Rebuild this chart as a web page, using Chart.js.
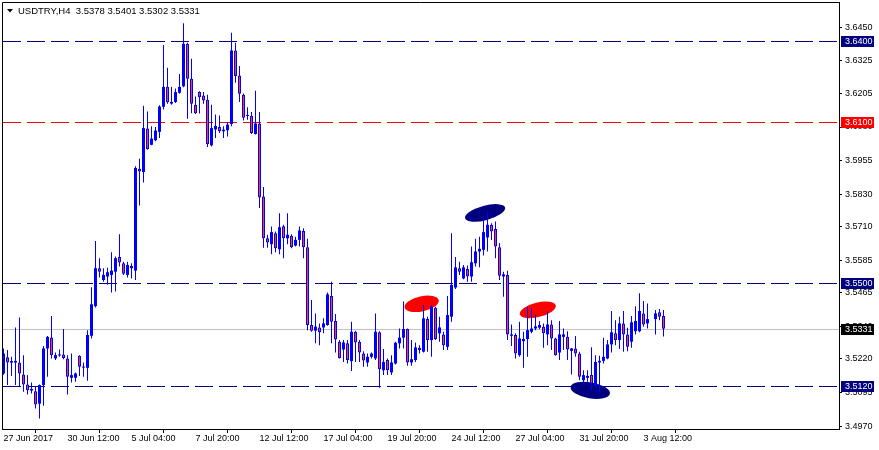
<!DOCTYPE html>
<html>
<head>
<meta charset="utf-8">
<script src="https://cdn.jsdelivr.net/npm/chart.js@4.4.1/dist/chart.umd.min.js"></script>
<style>
  html, body { margin: 0; padding: 0; background: #fff; }
  #wrap { width: 879px; height: 450px; }
</style>
</head>
<body>
<div id="wrap"><canvas id="chart" width="879" height="450"></canvas></div>
<script>
// USDTRY H4 candles (bar 162 is a gap)
const symbol = 'USDTRY,H4';

const opens = [
  3.5165, 3.5225, 3.5205, 3.5206, 3.5206, 3.5161, 3.5124, 3.5107, 3.5099, 3.5053,
  3.5122, 3.5258, 3.5299, 3.5221, 3.5232, 3.5236, 3.5221, 3.5149, 3.5149, 3.5231,
  3.5187, 3.5186, 3.5305, 3.5415, 3.5556, 3.5512, 3.5525, 3.5531, 3.5543, 3.5597,
  3.5574, 3.5531, 3.5556, 3.5547, 3.5925, 3.5913, 3.6074, 3.6014, 3.6031, 3.6062,
  3.6155, 3.6229, 3.6173, 3.6173, 3.6207, 3.6231, 3.6389, 3.6259, 3.6163, 3.6210,
  3.6197, 3.6181, 3.6012, 3.6071, 3.6080, 3.6064, 3.6068, 3.6091, 3.6364, 3.6271,
  3.6200, 3.6121, 3.6122, 3.6054, 3.6093, 3.5822, 3.5667, 3.5645, 3.5686, 3.5626,
  3.5712, 3.5667, 3.5676, 3.5640, 3.5661, 3.5694, 3.5634, 3.5345, 3.5324, 3.5336,
  3.5336, 3.5345, 3.5453, 3.5360, 3.5283, 3.5254, 3.5277, 3.5211, 3.5320, 3.5283,
  3.5239, 3.5206, 3.5227, 3.5221, 3.5318, 3.5177, 3.5215, 3.5169, 3.5202, 3.5277,
  3.5298, 3.5330, 3.5206, 3.5215, 3.5261, 3.5246, 3.5367, 3.5289, 3.5409, 3.5314,
  3.5310, 3.5264, 3.5376, 3.5484, 3.5556, 3.5518, 3.5553, 3.5525, 3.5574, 3.5618,
  3.5624, 3.5670, 3.5717, 3.5701, 3.5634, 3.5525, 3.5531, 3.5305, 3.5308, 3.5233,
  3.5285, 3.5293, 3.5320, 3.5332, 3.5335, 3.5339, 3.5310, 3.5347, 3.5295, 3.5243,
  3.5301, 3.5301, 3.5249, 3.5258, 3.5239, 3.5140, 3.5149, 3.5159, 3.5119, 3.5206,
  3.5212, 3.5221, 3.5273, 3.5314, 3.5289, 3.5351, 3.5310, 3.5283, 3.5322, 3.5322,
  3.5388, 3.5351, null, 3.5367, 3.5392, 3.5378
];
const highs = [
  3.5258, 3.5252, 3.5227, 3.5336, 3.5373, 3.5233, 3.5159, 3.5132, 3.5119, 3.5124,
  3.5267, 3.5304, 3.5378, 3.5243, 3.5254, 3.5330, 3.5233, 3.5239, 3.5169, 3.5233,
  3.5206, 3.5326, 3.5485, 3.5657, 3.5593, 3.5556, 3.5558, 3.5615, 3.5599, 3.5682,
  3.5580, 3.5580, 3.5574, 3.5934, 3.5962, 3.6159, 3.6138, 3.6083, 3.6080, 3.6161,
  3.6384, 3.6300, 3.6229, 3.6223, 3.6277, 3.6465, 3.6393, 3.6333, 3.6193, 3.6213,
  3.6210, 3.6200, 3.6163, 3.6126, 3.6123, 3.6083, 3.6099, 3.6430, 3.6393, 3.6306,
  3.6204, 3.6153, 3.6136, 3.6215, 3.6136, 3.5857, 3.5680, 3.5711, 3.5692, 3.5760,
  3.5717, 3.5760, 3.5682, 3.5673, 3.5711, 3.5704, 3.5665, 3.5438, 3.5388, 3.5351,
  3.5370, 3.5466, 3.5506, 3.5386, 3.5289, 3.5289, 3.5289, 3.5357, 3.5324, 3.5289,
  3.5248, 3.5239, 3.5243, 3.5388, 3.5322, 3.5256, 3.5221, 3.5233, 3.5283, 3.5332,
  3.5432, 3.5332, 3.5289, 3.5280, 3.5270, 3.5419, 3.5376, 3.5419, 3.5413, 3.5376,
  3.5320, 3.5453, 3.5686, 3.5597, 3.5580, 3.5568, 3.5566, 3.5636, 3.5665, 3.5673,
  3.5739, 3.5764, 3.5723, 3.5729, 3.5649, 3.5543, 3.5546, 3.5347, 3.5314, 3.5357,
  3.5320, 3.5413, 3.5407, 3.5384, 3.5360, 3.5351, 3.5394, 3.5363, 3.5298, 3.5360,
  3.5332, 3.5322, 3.5260, 3.5304, 3.5246, 3.5177, 3.5177, 3.5262, 3.5233, 3.5231,
  3.5298, 3.5289, 3.5397, 3.5363, 3.5376, 3.5397, 3.5335, 3.5378, 3.5415, 3.5463,
  3.5434, 3.5425, null, 3.5401, 3.5404, 3.5401
];
const lows = [
  3.5160, 3.5122, 3.5156, 3.5122, 3.5119, 3.5097, 3.5087, 3.5091, 3.5035, 3.4998,
  3.5045, 3.5153, 3.5221, 3.5215, 3.5227, 3.5218, 3.5087, 3.5132, 3.5134, 3.5156,
  3.5153, 3.5138, 3.5295, 3.5410, 3.5521, 3.5506, 3.5494, 3.5466, 3.5469, 3.5562,
  3.5531, 3.5521, 3.5518, 3.5512, 3.5789, 3.5874, 3.5996, 3.6012, 3.6027, 3.6039,
  3.6145, 3.6166, 3.6163, 3.6169, 3.6203, 3.6228, 3.6111, 3.6131, 3.6128, 3.6130,
  3.6166, 3.6006, 3.6008, 3.6039, 3.6058, 3.6039, 3.6045, 3.6083, 3.6244, 3.6173,
  3.6104, 3.6107, 3.6054, 3.6052, 3.5779, 3.5632, 3.5632, 3.5608, 3.5615, 3.5608,
  3.5593, 3.5645, 3.5630, 3.5636, 3.5636, 3.5593, 3.5326, 3.5320, 3.5277, 3.5270,
  3.5314, 3.5342, 3.5277, 3.5243, 3.5221, 3.5208, 3.5202, 3.5174, 3.5208, 3.5208,
  3.5190, 3.5190, 3.5221, 3.5215, 3.5112, 3.5159, 3.5159, 3.5159, 3.5198, 3.5258,
  3.5258, 3.5194, 3.5194, 3.5208, 3.5239, 3.5243, 3.5246, 3.5227, 3.5289, 3.5283,
  3.5252, 3.5252, 3.5357, 3.5479, 3.5531, 3.5515, 3.5506, 3.5506, 3.5562, 3.5559,
  3.5603, 3.5618, 3.5661, 3.5593, 3.5512, 3.5450, 3.5289, 3.5267, 3.5221, 3.5227,
  3.5186, 3.5227, 3.5314, 3.5326, 3.5329, 3.5261, 3.5270, 3.5252, 3.5231, 3.5215,
  3.5252, 3.5215, 3.5161, 3.5227, 3.5140, 3.5122, 3.5134, 3.5103, 3.5115, 3.5097,
  3.5202, 3.5218, 3.5243, 3.5270, 3.5256, 3.5246, 3.5248, 3.5261, 3.5310, 3.5318,
  3.5339, 3.5332, null, 3.5310, 3.5363, 3.5302
];
const closes = [
  3.5239, 3.5206, 3.5211, 3.5205, 3.5165, 3.5124, 3.5103, 3.5101, 3.5050, 3.5122,
  3.5258, 3.5301, 3.5233, 3.5233, 3.5233, 3.5223, 3.5153, 3.5159, 3.5165, 3.5190,
  3.5189, 3.5308, 3.5422, 3.5556, 3.5543, 3.5531, 3.5541, 3.5547, 3.5593, 3.5577,
  3.5535, 3.5568, 3.5564, 3.5928, 3.5915, 3.6076, 3.5998, 3.6037, 3.6067, 3.6156,
  3.6229, 3.6172, 3.6166, 3.6210, 3.6229, 3.6389, 3.6259, 3.6166, 3.6131, 3.6190,
  3.6178, 3.6017, 3.6076, 3.6084, 3.6064, 3.6070, 3.6089, 3.6364, 3.6269, 3.6203,
  3.6114, 3.6123, 3.6058, 3.6093, 3.5818, 3.5667, 3.5651, 3.5690, 3.5630, 3.5708,
  3.5667, 3.5680, 3.5634, 3.5661, 3.5696, 3.5634, 3.5345, 3.5324, 3.5339, 3.5318,
  3.5351, 3.5459, 3.5357, 3.5291, 3.5223, 3.5280, 3.5215, 3.5320, 3.5280, 3.5243,
  3.5213, 3.5227, 3.5239, 3.5320, 3.5181, 3.5208, 3.5177, 3.5206, 3.5279, 3.5298,
  3.5330, 3.5206, 3.5218, 3.5262, 3.5252, 3.5370, 3.5289, 3.5413, 3.5293, 3.5336,
  3.5270, 3.5382, 3.5494, 3.5559, 3.5543, 3.5559, 3.5525, 3.5578, 3.5618, 3.5628,
  3.5690, 3.5717, 3.5692, 3.5636, 3.5528, 3.5533, 3.5310, 3.5310, 3.5239, 3.5295,
  3.5293, 3.5326, 3.5332, 3.5340, 3.5345, 3.5314, 3.5347, 3.5295, 3.5233, 3.5310,
  3.5310, 3.5254, 3.5258, 3.5239, 3.5153, 3.5159, 3.5156, 3.5128, 3.5208, 3.5212,
  3.5227, 3.5273, 3.5318, 3.5289, 3.5351, 3.5310, 3.5264, 3.5355, 3.5360, 3.5397,
  3.5347, 3.5367, null, 3.5388, 3.5376, 3.5331
];

const xTickBars = [0, 16, 32, 48, 64, 80, 96, 112, 128, 144, 160];
const xTickLabels = ['27 Jun 2017', '30 Jun 12:00', '5 Jul 04:00', '7 Jul 20:00', '12 Jul 12:00',
  '17 Jul 04:00', '19 Jul 20:00', '24 Jul 12:00', '27 Jul 04:00', '31 Jul 20:00', '3 Aug 12:00'];
const yTickValues = [3.6450, 3.6325, 3.6205, 3.6080, 3.5955, 3.5830, 3.5710, 3.5585,
  3.5465, 3.5340, 3.5220, 3.5095, 3.4970];

// horizontal levels
const levelValues = [3.6400, 3.6100, 3.5500, 3.5120];
const levelColors = ['#000080', '#FF0000', '#000080', '#000080'];

// hand-drawn ellipses: [bar, price] of both ends of the long axis, half thickness in price
const ellipseFrom = [[115.4, 3.5741], [141.8, 3.5115], [100.3, 3.5410], [129.1, 3.5385]];
const ellipseTo = [[125.4, 3.5781], [151.6, 3.5090], [108.8, 3.5437], [138.05, 3.5418]];
const ellipseHalf = [0.0027, 0.0030, 0.0028, 0.0027];
const ellipseColors = ['#000080', '#000080', '#FF0000', '#FF0000'];

const FONT = "'Liberation Sans', Arial, sans-serif";
const xMin = -0.375, xMax = 208.875;
const bid = closes[closes.length - 1];

let wicks = [], bulls = [], bears = [];
opens.forEach((o, i) => {
    if (o === null) return;
    let c = closes[i];
    wicks.push({x: i, y: [lows[i], highs[i]]});
    if (c >= o) bulls.push({x: i, y: [o, c]});
    else bears.push({x: i, y: [c, o]});
});

const datasets = [
    {type: 'bar', data: wicks, backgroundColor: '#0000FF', barThickness: 1, grouped: false, inflateAmount: 0, order: 3},
    {type: 'bar', data: bulls, backgroundColor: '#0000FF', barThickness: 3, grouped: false, inflateAmount: 0, minBarLength: 1, order: 1},
    {type: 'bar', data: bears, backgroundColor: '#FF4020', borderColor: '#0000FF', borderWidth: 1, borderSkipped: false,
     barThickness: 3, grouped: false, inflateAmount: 0, minBarLength: 2, order: 1}
];

// levels, bid line and ellipses sit behind the candles
const background = {
    id: 'background',
    beforeDatasetsDraw(chart) {
        const {ctx, chartArea, scales: {x, y}} = chart;
        ctx.save();
        ctx.beginPath();
        ctx.rect(chartArea.left, chartArea.top, chartArea.width, chartArea.height);
        ctx.clip();
        ctx.lineWidth = 1;

        let by = Math.round(y.getPixelForValue(bid)) + 0.5;
        ctx.strokeStyle = '#C0C0C0';
        ctx.beginPath();
        ctx.moveTo(chartArea.left, by);
        ctx.lineTo(chartArea.right, by);
        ctx.stroke();

        ctx.setLineDash([18, 6]);
        levelValues.forEach((v, i) => {
            let py = Math.round(y.getPixelForValue(v)) + 0.5;
            ctx.strokeStyle = levelColors[i];
            ctx.beginPath();
            ctx.moveTo(chartArea.left + 1, py);
            ctx.lineTo(chartArea.right, py);
            ctx.stroke();
        });
        ctx.setLineDash([]);

        ellipseFrom.forEach((p, i) => {
            let x1 = x.getPixelForValue(p[0]), y1 = y.getPixelForValue(p[1]);
            let x2 = x.getPixelForValue(ellipseTo[i][0]), y2 = y.getPixelForValue(ellipseTo[i][1]);
            let ry = Math.abs(y.getPixelForValue(0) - y.getPixelForValue(ellipseHalf[i]));
            ctx.fillStyle = ellipseColors[i];
            ctx.beginPath();
            ctx.ellipse((x1 + x2) / 2, (y1 + y2) / 2, Math.hypot(x2 - x1, y2 - y1) / 2, ry,
                Math.atan2(y2 - y1, x2 - x1), 0, Math.PI * 2);
            ctx.fill();
        });
        ctx.restore();
    }
};

const decorations = {
    id: 'decorations',
    afterDraw(chart) {
        const {ctx, chartArea, scales: {y}} = chart;
        ctx.save();
        // top and left frame
        ctx.strokeStyle = '#000';
        ctx.lineWidth = 1;
        ctx.beginPath();
        ctx.moveTo(chartArea.left + 0.5, chartArea.bottom);
        ctx.lineTo(chartArea.left + 0.5, chartArea.top + 0.5);
        ctx.lineTo(chartArea.right, chartArea.top + 0.5);
        ctx.stroke();

        // price tags of the levels on the right scale
        ctx.font = '9px ' + FONT;
        ctx.textBaseline = 'middle';
        let tags = levelValues.map((v, i) => [v, levelColors[i]]);
        tags.push([bid, '#000000']);
        tags.forEach(([v, col]) => {
            let py = Math.round(y.getPixelForValue(v));
            ctx.fillStyle = col;
            ctx.fillRect(y.left + 2, py - 5, 33, 11);
            ctx.fillStyle = '#FFFFFF';
            ctx.fillText(v.toFixed(4), y.left + 6, py + 0.5);
        });

        // symbol line
        ctx.font = '9.5px ' + FONT;
        ctx.fillStyle = '#000';
        ctx.beginPath();
        ctx.moveTo(7, 9);
        ctx.lineTo(13, 9);
        ctx.lineTo(10, 12.5);
        ctx.closePath();
        ctx.fill();
        let last = closes.length - 1;
        let head = symbol + '  ' + [opens[last], highs[last], lows[last], closes[last]].map(v => v.toFixed(4)).join(' ');
        ctx.fillText(head, 18, 11);
        ctx.restore();
    }
};

new Chart(document.getElementById('chart'), {
    type: 'bar',
    data: {datasets: datasets},
    options: {
        responsive: false,
        animation: false,
        devicePixelRatio: 1,
        events: [],
        layout: {padding: {left: 2, top: 2, right: 0, bottom: 0}},
        plugins: {legend: {display: false}, tooltip: {enabled: false}},
        scales: {
            x: {
                type: 'linear',
                min: xMin,
                max: xMax,
                offset: false,
                afterBuildTicks: (s) => { s.ticks = xTickBars.map(v => ({value: v})); },
                afterFit: (s) => { s.height = 21; s.paddingLeft = 0; s.paddingRight = 0; },
                grid: {drawOnChartArea: false, drawTicks: true, tickLength: 4, color: '#000'},
                border: {display: true, color: '#000', width: 1},
                ticks: {
                    autoSkip: false, maxRotation: 0, minRotation: 0, align: 'start', padding: 0,
                    color: '#000', font: {family: FONT, size: 9},
                    callback: (v) => { let k = xTickBars.indexOf(v); return k >= 0 ? xTickLabels[k] : ''; }
                }
            },
            y: {
                type: 'linear',
                position: 'right',
                min: 3.4959,
                max: 3.6544,
                afterBuildTicks: (s) => { s.ticks = yTickValues.map(v => ({value: v})); },
                afterFit: (s) => { s.width = 40; s.paddingTop = 0; s.paddingBottom = 0; },
                grid: {drawOnChartArea: false, drawTicks: true, tickLength: 3, color: '#000'},
                border: {display: true, color: '#000', width: 1},
                ticks: {
                    autoSkip: false, padding: 3, color: '#000', font: {family: FONT, size: 9},
                    callback: (v) => v.toFixed(4)
                }
            }
        }
    },
    plugins: [background, decorations]
});
</script>
</body>
</html>
